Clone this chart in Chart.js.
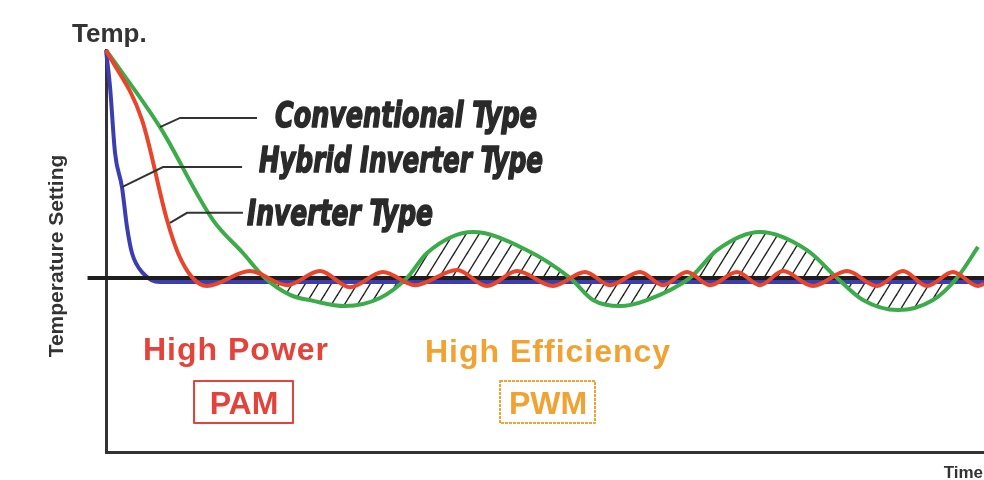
<!DOCTYPE html>
<html>
<head>
<meta charset="utf-8">
<script src="https://cdn.jsdelivr.net/npm/chart.js@4.4.0/dist/chart.umd.min.js"></script>
<style>
  html, body { margin: 0; padding: 0; background: #fff; }
  #wrap { width: 984px; height: 480px; }
</style>
</head>
<body>
<div id="wrap"><canvas id="grafica" width="984" height="480"></canvas></div>
<script>
// time runs 0..100, temperature 0..100 (setting line at 43.3)
const setPoint = 43.3;

const hybridTime = [0, 0.46, 1.03, 1.82, 2.39, 2.96, 4.21, 6.15, 100];
const hybridTemp = [100, 90.8, 74.4, 65.9, 56.0, 49.5, 44.5, 42.3, 42.3];

const inverterTime = [0, 4.10, 6.95, 8.20, 9.79, 11.50, 16.40, 20.62, 24.37, 27.79, 31.55, 35.19,
  39.98, 43.39, 46.81, 50.91, 54.56, 57.40, 60.82, 63.44, 66.17, 68.79, 71.87, 74.49, 77.11, 80.52,
  84.40, 87.81, 90.77, 93.51, 96.47, 99.32, 100];
const inverterTemp = [100, 82.6, 57.7, 49.5, 43.5, 41.3, 45.0, 41.5, 45.0, 41.0, 44.8, 41.5,
  45.3, 41.3, 45.0, 41.3, 44.8, 41.5, 44.8, 41.5, 44.8, 41.5, 44.8, 41.5, 45.0, 41.3,
  45.0, 41.3, 45.0, 41.3, 44.8, 41.3, 41.8];

const convTime = [0, 6.15, 12.19, 15.60, 18.11, 20.96, 23.58, 27.22, 31.21, 34.28, 36.56, 41.80,
  47.95, 52.85, 55.47, 58.54, 61.62, 66.51, 69.59, 74.49, 79.84, 83.26, 86.22, 90.21, 94.19, 96.92, 99.32];
const convTemp = [100, 80.8, 57.7, 49.5, 43.3, 39.1, 37.6, 36.3, 38.3, 43.3, 49.5, 54.7,
  50.2, 43.3, 37.8, 36.3, 37.8, 43.3, 50.2, 54.7, 50.2, 43.3, 37.8, 35.3, 37.8, 43.3, 51.0];

// hatching between the first and the last crossing of the setting
const hatchFrom = 4;
const hatchTo = 26;

function pts(xs, ys) {
  return xs.map((v, i) => ({ x: v, y: ys[i] }));
}

function hatchPattern() {
  const c = document.createElement('canvas');
  c.width = 13; c.height = 21;
  const g = c.getContext('2d');
  g.strokeStyle = '#222';
  g.lineWidth = 1.4;
  for (const s of [-13, 0, 13]) {
    g.beginPath();
    g.moveTo(s - 13, 42);
    g.lineTo(s + 26, -21);
    g.stroke();
  }
  return g.createPattern(c, 'repeat');
}

const labelsPlugin = {
  id: 'labels',
  afterDraw(chart) {
    const { ctx, scales: { x, y } } = chart;
    const px = v => x.getPixelForValue(v);
    const py = v => y.getPixelForValue(v);
    ctx.save();

    // leader lines
    ctx.strokeStyle = '#333';
    ctx.lineWidth = 2;
    const leaders = [
      [6.15, 80.8, 8.43, 83.1, 17.2],
      [1.82, 65.9, 6.49, 70.9, 15.5],
      [7.29, 57.0, 9.23, 59.5, 15.6]
    ];
    leaders.forEach(l => {
      ctx.beginPath();
      ctx.moveTo(px(l[0]), py(l[1]));
      ctx.lineTo(px(l[2]), py(l[3]));
      ctx.lineTo(px(l[4]), py(l[3]));
      ctx.stroke();
    });

    ctx.textBaseline = 'alphabetic';
    ctx.fillStyle = '#2a2a2a';
    ctx.strokeStyle = '#2a2a2a';
    ctx.lineWidth = 1.6;
    ctx.lineJoin = 'round';
    ctx.font = 'bold italic 36px "DejaVu Sans Condensed", "DejaVu Sans", sans-serif';
    [['Conventional Type', 275, 127, 262],
     ['Hybrid Inverter Type', 259, 172, 284],
     ['Inverter Type', 247, 225, 186]].forEach(t => {
      ctx.fillText(t[0], t[1], t[2], t[3]);
      ctx.strokeText(t[0], t[1], t[2], t[3]);
    });

    ctx.fillStyle = '#333';
    ctx.font = 'bold 26px "Liberation Sans", Arial, sans-serif';
    ctx.fillText('Temp.', 72, 42);
    ctx.font = 'bold 17px "Liberation Sans", Arial, sans-serif';
    ctx.textAlign = 'right';
    ctx.fillText('Time', 983, 478);

    ctx.save();
    ctx.translate(63, 256);
    ctx.rotate(-Math.PI / 2);
    ctx.textAlign = 'center';
    ctx.font = 'bold 21px "Liberation Sans", Arial, sans-serif';
    ctx.fillText('Temperature Setting', 0, 0);
    ctx.restore();

    ctx.letterSpacing = '1px';
    ctx.textAlign = 'left';
    ctx.font = 'bold 32px "Liberation Sans", Arial, sans-serif';
    ctx.fillStyle = '#e3433a';
    ctx.fillText('High Power', 143, 360);
    ctx.fillStyle = '#f0a232';
    ctx.fillText('High Efficiency', 425, 362);

    ctx.letterSpacing = '0px';
    ctx.textAlign = 'center';
    ctx.lineWidth = 2;
    ctx.strokeStyle = '#e3433a';
    ctx.strokeRect(194, 381, 99, 42);
    ctx.fillStyle = '#e3433a';
    ctx.fillText('PAM', 244, 414);

    ctx.strokeStyle = '#f0a232';
    ctx.setLineDash([3, 1]);
    ctx.strokeRect(500, 381, 95, 42);
    ctx.setLineDash([]);
    ctx.fillStyle = '#f0a232';
    ctx.fillText('PWM', 548, 414);

    ctx.restore();
  }
};

const graph = document.querySelector('#grafica');

const data = {
  datasets: [{
    label: 'Inverter Type',
    data: pts(inverterTime, inverterTemp),
    borderColor: '#e8452c',
    borderWidth: 4
  }, {
    label: 'Conventional Type',
    data: pts(convTime, convTemp),
    borderColor: '#3cab4a',
    borderWidth: 4
  }, {
    label: 'Temperature Setting',
    data: [{ x: -2.1, y: setPoint }, { x: 100, y: setPoint }],
    borderColor: '#1e1e1e',
    borderWidth: 4,
    cubicInterpolationMode: 'default',
    tension: 0
  }, {
    label: 'Hybrid Inverter Type',
    data: pts(hybridTime, hybridTemp),
    borderColor: '#3d3db3',
    borderWidth: 4
  }, {
    label: 'hatch',
    data: pts(convTime.slice(hatchFrom, hatchTo), convTemp.slice(hatchFrom, hatchTo)),
    borderWidth: 0,
    borderColor: 'rgba(0,0,0,0)',
    backgroundColor: hatchPattern(),
    fill: { value: setPoint }
  }]
};

const config = {
  type: 'line',
  data: data,
  options: {
    responsive: false,
    animation: false,
    layout: { padding: { left: 106, top: 50, right: 0, bottom: 28 } },
    elements: {
      point: { radius: 0 },
      line: { cubicInterpolationMode: 'monotone', fill: false }
    },
    datasets: { line: { clip: false } },
    plugins: { legend: { display: false }, tooltip: { enabled: false } },
    scales: {
      x: {
        type: 'linear', min: 0, max: 100,
        ticks: { display: false }, grid: { display: false },
        border: { display: true, color: '#333', width: 3 },
        afterFit(s) { s.height = 0; }
      },
      y: {
        min: 0, max: 100,
        ticks: { display: false }, grid: { display: false },
        border: { display: true, color: '#333', width: 3 },
        afterFit(s) { s.width = 0; }
      }
    }
  },
  plugins: [labelsPlugin]
};
new Chart(graph, config);
</script>
</body>
</html>
